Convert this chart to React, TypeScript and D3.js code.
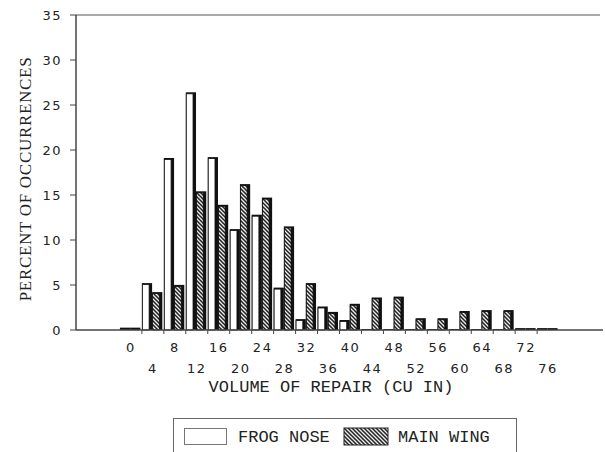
import React, { useEffect, useRef } from 'react';
import * as d3 from 'd3';

// volume of repair categories (cu in)
const categories = ['0', '4', '8', '12', '16', '20', '24', '28', '32', '36', '40', '44', '48', '52', '56', '60', '64', '68', '72', '76'];
const frogNose = [0.15, 5.1, 19.0, 26.3, 19.1, 11.1, 12.7, 4.6, 1.1, 2.5, 1.0, 0, 0, 0, 0, 0, 0, 0, 0.1, 0.1];
const mainWing = [0.15, 4.1, 4.9, 15.3, 13.8, 16.1, 14.6, 11.4, 5.1, 1.9, 2.8, 3.5, 3.6, 1.2, 1.2, 2.0, 2.1, 2.1, 0.1, 0.1];
const yTicks = [0, 5, 10, 15, 20, 25, 30, 35];

const W = 605;
const H = 452;
const mono = '"Liberation Mono", "DejaVu Sans Mono", monospace';
const sans = '"DejaVu Sans", sans-serif';

const App: React.FC = () => {
  const ref = useRef<SVGSVGElement | null>(null);

  useEffect(() => {
    const svg = d3.select(ref.current);
    svg.selectAll('*').remove();

    const left = 76;
    const right = 603;
    const top = 15;
    const bottom = 330;
    const step = (right - left) / 24;

    const defs = svg.append('defs');
    const pat = defs
      .append('pattern')
      .attr('id', 'hatch')
      .attr('patternUnits', 'userSpaceOnUse')
      .attr('width', 4)
      .attr('height', 4);
    pat.append('rect').attr('width', 4).attr('height', 4).attr('fill', '#ececec');
    pat
      .append('path')
      .attr('d', 'M-1,-1 L5,5 M-1,3 L1,5 M3,-1 L5,1')
      .attr('stroke', '#222')
      .attr('stroke-width', 1.5);

    const x = d3
      .scaleBand()
      .domain(categories)
      .range([left + 2 * step, right - 2 * step])
      .paddingInner(0)
      .paddingOuter(0);

    const x1 = d3
      .scaleBand()
      .domain(['frog', 'wing'])
      .range([0, x.bandwidth() - 1.5]);

    const y = d3.scaleLinear().domain([0, 35]).range([bottom, top]);

    // frame lines
    svg
      .append('line')
      .attr('x1', left)
      .attr('x2', right - 3)
      .attr('y1', top)
      .attr('y2', top)
      .attr('stroke', '#555')
      .attr('stroke-width', 1);
    svg
      .append('line')
      .attr('x1', left)
      .attr('x2', left)
      .attr('y1', top)
      .attr('y2', bottom)
      .attr('stroke', '#444')
      .attr('stroke-width', 1.5);

    // y axis ticks
    const yg = svg.append('g');
    yTicks.forEach((t) => {
      yg.append('line')
        .attr('x1', left - 6)
        .attr('x2', left)
        .attr('y1', y(t))
        .attr('y2', y(t))
        .attr('stroke', '#444');
      yg.append('text')
        .attr('x', left - 14)
        .attr('y', y(t) + 5)
        .attr('text-anchor', 'end')
        .attr('font-family', sans)
        .attr('font-size', 13)
        .attr('letter-spacing', 1.5)
        .attr('fill', '#222')
        .text(t);
    });

    // bars
    const drawBar = (cx: number, v: number, fill: string) => {
      const bw = x1.bandwidth();
      const yy = y(v);
      const h = bottom - yy;
      svg
        .append('rect')
        .attr('x', cx)
        .attr('y', yy - 1)
        .attr('width', bw)
        .attr('height', h + 1)
        .attr('fill', '#111');
      if (h > 1.5) {
        svg
          .append('rect')
          .attr('x', cx + 0.5)
          .attr('y', yy + 0.5)
          .attr('width', Math.max(bw - 3.5, 0))
          .attr('height', h - 0.5)
          .attr('fill', fill)
          .attr('stroke', '#111')
          .attr('stroke-width', 0.8);
      }
    };

    categories.forEach((c, i) => {
      const gx = x(c)!;
      drawBar(gx + x1('frog')!, frogNose[i], '#fff');
      drawBar(gx + x1('wing')!, mainWing[i], 'url(#hatch)');
    });

    // x axis
    svg
      .append('line')
      .attr('x1', left)
      .attr('x2', right)
      .attr('y1', bottom)
      .attr('y2', bottom)
      .attr('stroke', '#444')
      .attr('stroke-width', 1.5);

    categories.slice(1).forEach((c) => {
      const tx = x(c)!;
      svg
        .append('line')
        .attr('x1', tx)
        .attr('x2', tx)
        .attr('y1', bottom)
        .attr('y2', bottom + 4)
        .attr('stroke', '#444');
    });

    categories.forEach((c, i) => {
      svg
        .append('text')
        .attr('x', x(c)! + x.bandwidth() / 2)
        .attr('y', i % 2 === 0 ? 352 : 373)
        .attr('text-anchor', 'middle')
        .attr('font-family', sans)
        .attr('font-size', 13)
        .attr('letter-spacing', 1.5)
        .attr('fill', '#222')
        .text(c);
    });

    svg
      .append('text')
      .attr('x', 331)
      .attr('y', 392)
      .attr('text-anchor', 'middle')
      .attr('font-family', mono)
      .attr('font-size', 17)
      .attr('fill', '#222')
      .text('VOLUME OF REPAIR (CU IN)');

    svg
      .append('text')
      .attr('transform', 'translate(31,179) rotate(-90)')
      .attr('text-anchor', 'middle')
      .attr('font-family', '"Liberation Serif", serif')
      .attr('font-size', 17)
      .attr('letter-spacing', 0.7)
      .attr('fill', '#222')
      .text('PERCENT OF OCCURRENCES');

    // legend
    const lg = svg.append('g');
    lg.append('rect')
      .attr('x', 173.5)
      .attr('y', 418.5)
      .attr('width', 343)
      .attr('height', 40)
      .attr('fill', '#fff')
      .attr('stroke', '#666');
    lg.append('rect')
      .attr('x', 184.5)
      .attr('y', 428.5)
      .attr('width', 42)
      .attr('height', 16)
      .attr('fill', '#fff')
      .attr('stroke', '#777');
    lg.append('text')
      .attr('x', 238)
      .attr('y', 442)
      .attr('font-family', mono)
      .attr('font-size', 17)
      .attr('fill', '#222')
      .text('FROG NOSE');
    lg.append('rect')
      .attr('x', 344)
      .attr('y', 428)
      .attr('width', 44)
      .attr('height', 17)
      .attr('fill', 'url(#hatch)')
      .attr('stroke', '#222');
    lg.append('text')
      .attr('x', 398)
      .attr('y', 442)
      .attr('font-family', mono)
      .attr('font-size', 17)
      .attr('fill', '#222')
      .text('MAIN WING');
  }, []);

  return (
    <svg
      ref={ref}
      width={W}
      height={H}
      style={{ position: 'absolute', left: 0, top: 0, background: '#fff' }}
    />
  );
};

export default App;
